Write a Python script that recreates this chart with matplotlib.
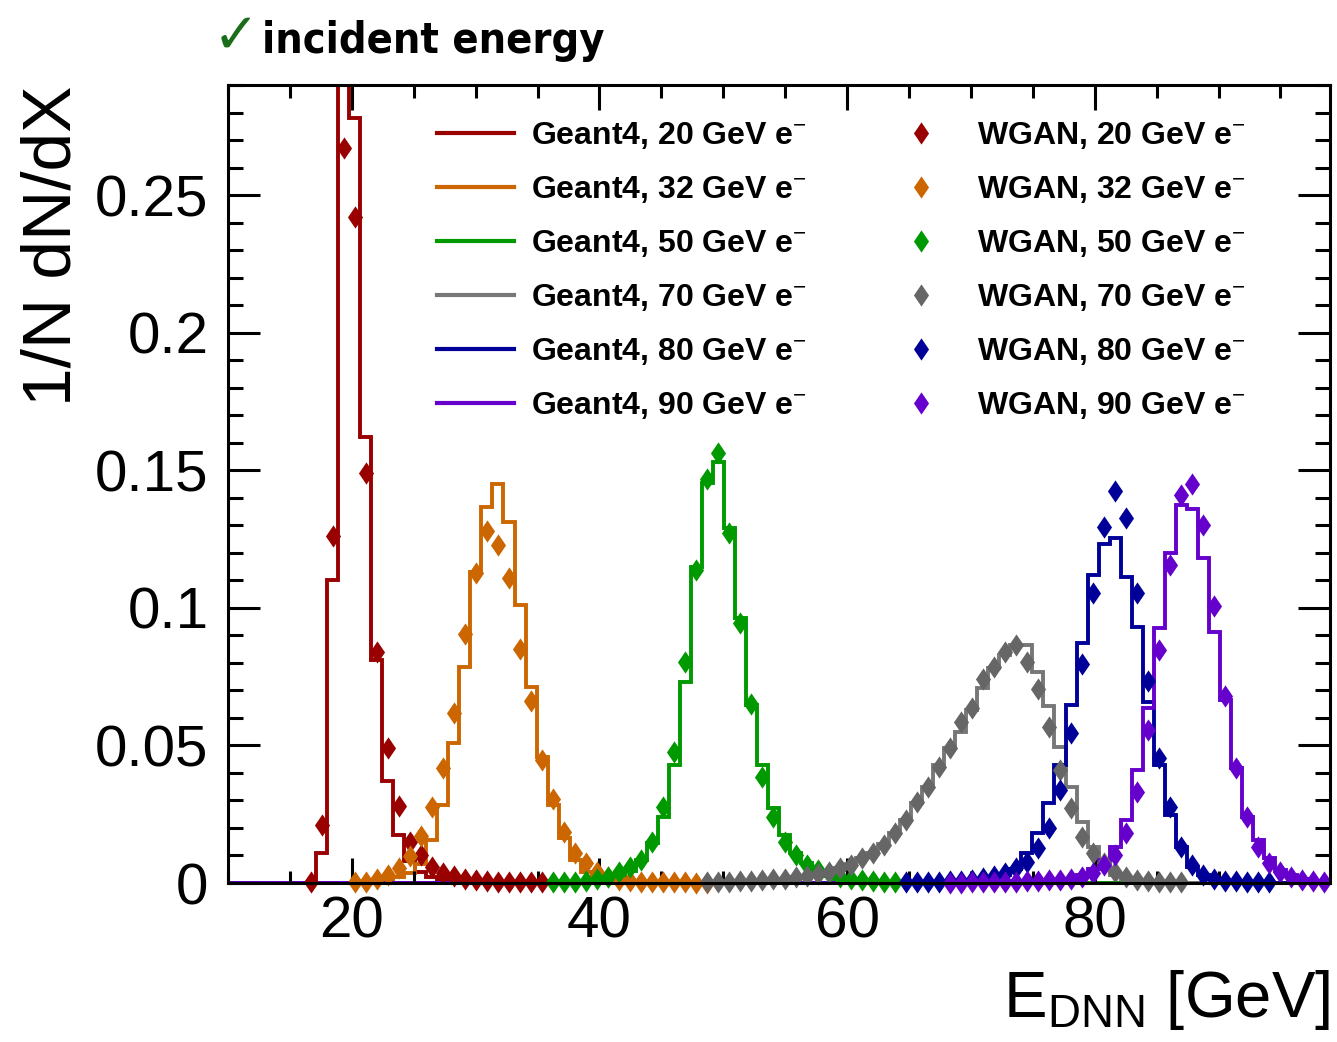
import numpy as np
import matplotlib
matplotlib.use('Agg')
import matplotlib.pyplot as plt
from matplotlib.lines import Line2D
from matplotlib.ticker import MultipleLocator, FuncFormatter
from matplotlib import font_manager

plt.rcParams['font.family'] = ['Liberation Sans', 'DejaVu Sans']
plt.rcParams['mathtext.fontset'] = 'custom'
plt.rcParams['mathtext.rm'] = 'Liberation Sans'
plt.rcParams['mathtext.it'] = 'Liberation Sans:italic'
plt.rcParams['mathtext.bf'] = 'Liberation Sans:bold'

# 100 bins between 10 and 99 GeV
x_lo, x_hi, n_bins = 10.0, 99.0, 100

energies = [20, 32, 50, 70, 80, 90]
line_colors = ['#990000', '#cc6600', '#009900', '#777777', '#000099', '#6600cc']
marker_colors = ['#990000', '#cc6600', '#009900', '#666666', '#000099', '#6600cc']

# Geant4 histograms: index of first filled bin + bin contents
g4_first = [8, 13, 33, 45, 64, 74]
g4_20 = [0.011, 0.110, 0.300, 0.278, 0.162, 0.081, 0.037, 0.0174, 0.008, 0.004, 0.002, 0.001]
g4_32 = [0.0005, 0.001, 0.002, 0.0035, 0.007, 0.0156, 0.0285, 0.0508, 0.0786, 0.1131, 0.1368,
         0.145, 0.1313, 0.101, 0.0713, 0.0459, 0.0283, 0.0162, 0.0084, 0.0041, 0.0015, 0.0005]
g4_50 = [0.0005, 0.001, 0.0025, 0.0045, 0.0084, 0.0144, 0.0241, 0.0429, 0.0729, 0.115, 0.1452,
         0.1531, 0.1289, 0.0962, 0.0647, 0.0429, 0.0271, 0.0174, 0.0108, 0.0071, 0.004, 0.0025,
         0.0015, 0.0008, 0.0004]
g4_70 = [0.0003, 0.0005, 0.0008, 0.001, 0.0013, 0.0016, 0.002, 0.0025, 0.003, 0.004, 0.0055,
         0.007, 0.009, 0.011, 0.014, 0.018, 0.023, 0.029, 0.035, 0.043, 0.049, 0.055, 0.063,
         0.071, 0.078, 0.083, 0.0865, 0.0865, 0.0768, 0.0645, 0.0495, 0.035, 0.022, 0.0132,
         0.0071, 0.003, 0.0015, 0.0007]
g4_80 = [0.0003, 0.0005, 0.0008, 0.001, 0.0015, 0.002, 0.003, 0.005, 0.0108, 0.018, 0.029,
         0.0429, 0.0647, 0.0871, 0.1119, 0.1232, 0.1252, 0.1113, 0.0931, 0.0659, 0.0429, 0.0247,
         0.0132, 0.0059, 0.0029, 0.0015, 0.0008, 0.0004, 0.0002]
g4_90 = [0.0005, 0.001, 0.0015, 0.003, 0.005, 0.0084, 0.0132, 0.0229, 0.0411, 0.0635, 0.0925,
         0.12, 0.1374, 0.1358, 0.118, 0.0913, 0.0665, 0.0417, 0.0241, 0.0156, 0.009, 0.0047,
         0.0029, 0.0015, 0.0008, 0.0004]

# WGAN points: index of first filled bin + bin contents
wgan_first = [7, 11, 29, 43, 61, 65]
wgan_20 = [0.0005, 0.021, 0.126, 0.267, 0.242, 0.149, 0.084, 0.049, 0.028, 0.015, 0.0102,
           0.0059, 0.0035, 0.0024, 0.0015, 0.001, 0.0007, 0.0005, 0.0004, 0.0003, 0.0003, 0.0002]
wgan_32 = [0.0003, 0.0005, 0.0015, 0.0029, 0.0053, 0.0099, 0.017, 0.0277, 0.0417, 0.0617,
           0.0905, 0.1125, 0.128, 0.1228, 0.1107, 0.085, 0.0663, 0.0447, 0.0304, 0.0187, 0.0108,
           0.0071, 0.0041, 0.002, 0.0012, 0.0008, 0.0005, 0.0004, 0.0003, 0.0002, 0.0002,
           0.0001, 0.0001]
wgan_50 = [0.0002, 0.0003, 0.0005, 0.0008, 0.0013, 0.0023, 0.0041, 0.0059, 0.0084, 0.015,
           0.0277, 0.0477, 0.0802, 0.1137, 0.147, 0.1561, 0.1273, 0.0946, 0.065, 0.0386, 0.0241,
           0.015, 0.0102, 0.0065, 0.0047, 0.0035, 0.0022, 0.0015, 0.001, 0.0006, 0.0004, 0.0002]
wgan_70 = [0.0002, 0.0003, 0.0005, 0.0007, 0.0009, 0.0011, 0.0013, 0.0016, 0.002, 0.0025,
           0.0032, 0.0041, 0.0053, 0.0065, 0.009, 0.0108, 0.0138, 0.018, 0.0229, 0.0296, 0.035,
           0.0423, 0.0489, 0.0586, 0.0635, 0.074, 0.0786, 0.0841, 0.0865, 0.0804, 0.0704, 0.0568,
           0.041, 0.0271, 0.0168, 0.0108, 0.0071, 0.004, 0.002, 0.0012, 0.0007, 0.0005, 0.0003,
           0.0002]
wgan_80 = [0.0002, 0.0003, 0.0004, 0.0005, 0.0007, 0.0009, 0.0012, 0.0017, 0.0024, 0.0035,
           0.0053, 0.0077, 0.0126, 0.0199, 0.0338, 0.0546, 0.0796, 0.1053, 0.1292, 0.1424,
           0.1328, 0.1053, 0.0735, 0.0453, 0.0277, 0.0132, 0.0065, 0.0029, 0.0015, 0.0009,
           0.0006, 0.0004, 0.0003, 0.0002]
wgan_90 = [0.0001, 0.0001, 0.0002, 0.0002, 0.0003, 0.0004, 0.0005, 0.0006, 0.0008, 0.001,
           0.0012, 0.0015, 0.002, 0.0037, 0.0065, 0.01, 0.018, 0.0332, 0.0556, 0.0847, 0.1156,
           0.141, 0.145, 0.1301, 0.1007, 0.068, 0.0417, 0.0241, 0.0132, 0.0071, 0.0041, 0.0023,
           0.0012, 0.0006, 0.0003]

g4_hists = [g4_20, g4_32, g4_50, g4_70, g4_80, g4_90]
wgan_points = [wgan_20, wgan_32, wgan_50, wgan_70, wgan_80, wgan_90]

edges = np.linspace(x_lo, x_hi, n_bins + 1)
centers = 0.5 * (edges[1:] + edges[:-1])

# ROOT-like filled diamond (a bit slimmer than a square)
diamond = [(0, 1), (0.68, 0), (0, -1), (-0.68, 0), (0, 1)]
msize = 16


def full_hist(first, vals):
    h = np.zeros(n_bins)
    h[first:first + len(vals)] = vals
    return h


fig = plt.figure(figsize=(13.37, 10.42), dpi=100)
ax = fig.add_axes([0.17053, 0.15259, 0.82423, 0.76583])

for i in range(len(energies)):
    ax.stairs(full_hist(g4_first[i], g4_hists[i]), edges, color=line_colors[i], lw=2.8,
              baseline=None)
    xs = centers[wgan_first[i]:wgan_first[i] + len(wgan_points[i])]
    ax.plot(xs, wgan_points[i], ls='none', marker=diamond, ms=msize, mew=0,
            color=marker_colors[i], clip_on=False)

ax.set_xlim(x_lo, x_hi)
ax.set_ylim(0, 0.29)

ax.xaxis.set_major_locator(MultipleLocator(20))
ax.xaxis.set_minor_locator(MultipleLocator(5))
ax.yaxis.set_major_locator(MultipleLocator(0.05))
ax.yaxis.set_minor_locator(MultipleLocator(0.01))
ax.yaxis.set_major_formatter(FuncFormatter(lambda v, p: '%g' % round(v, 3)))
ax.xaxis.set_major_formatter(FuncFormatter(lambda v, p: '%g' % v))

ax.tick_params(which='both', direction='in', top=True, right=True, width=2.2, labelsize=42)
ax.tick_params(axis='x', which='major', length=18, pad=9)
ax.tick_params(axis='x', which='minor', length=9)
ax.tick_params(axis='y', which='major', length=23, pad=14)
ax.tick_params(axis='y', which='minor', length=11)
for s in ax.spines.values():
    s.set_linewidth(2.2)

# axis titles, ROOT style (pushed to the ends of the axes)
fig.text(0.0389, 0.9184, '1/N dN/dX', rotation=90, ha='center', va='top', fontsize=50)
fig.text(0.9948, 0.024, r'E$_{\mathrm{DNN}}$ [GeV]', ha='right', va='baseline', fontsize=47)

# legend
handles = []
labels = []
for i, e in enumerate(energies):
    handles.append(Line2D([], [], color=line_colors[i], lw=3))
    labels.append('Geant4, %d GeV e$^{-}$' % e)
for i, e in enumerate(energies):
    handles.append(Line2D([], [], ls='none', marker=diamond, ms=msize, mew=0,
                          color=marker_colors[i]))
    labels.append('WGAN, %d GeV e$^{-}$' % e)
ax.legend(handles, labels, ncol=2, loc='upper left', bbox_to_anchor=(0.1897, 0.956),
          frameon=False, borderpad=0, borderaxespad=0, handlelength=2.4,
          handletextpad=0.53, columnspacing=2.4, labelspacing=0.72,
          prop={'weight': 'bold', 'size': 23})

# header
names = {f.name for f in font_manager.fontManager.ttflist}
if 'Liberation Sans Narrow' in names:
    head_font = dict(family='Liberation Sans Narrow', weight='bold', size=41)
else:
    head_font = dict(family='DejaVu Sans', stretch='condensed', weight='heavy', size=31)
fig.text(0.1935, 0.950, '\u2713', color='#1a6e1a', fontsize=40, family='DejaVu Sans',
         weight='bold', ha='right', va='baseline')
fig.text(0.196, 0.949, 'incident energy', ha='left', va='baseline', **head_font)

fig.savefig('out.png', dpi=100)
